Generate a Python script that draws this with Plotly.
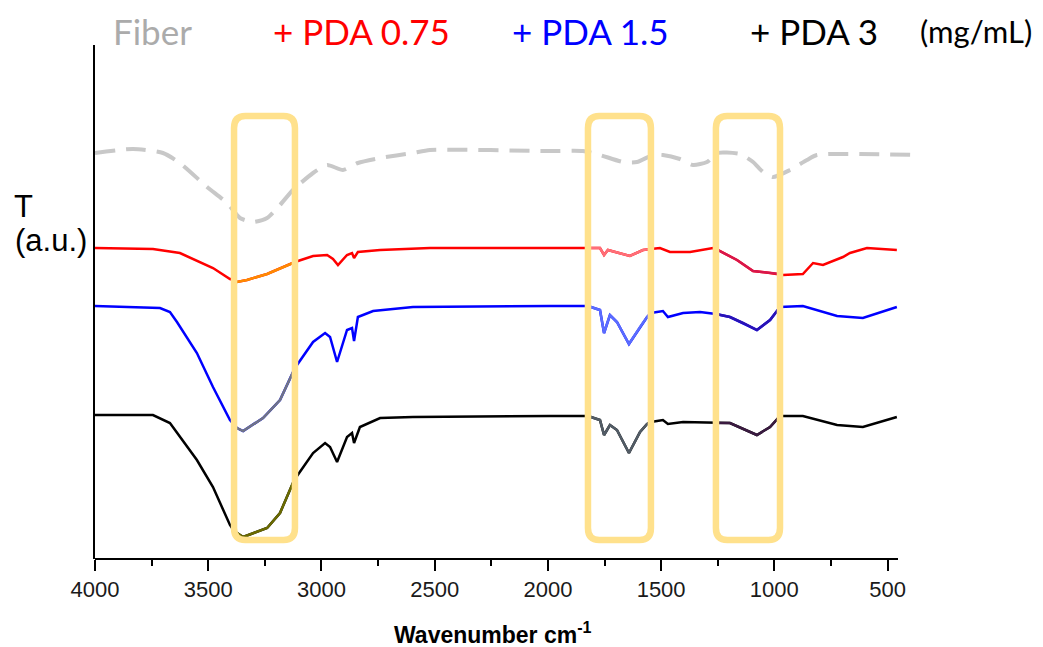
import plotly.graph_objects as go

# ---------------- data (wavenumber cm-1, transmittance in a.u.) ----------------
fiber_wn = [4000, 3832, 3700, 3625, 3505, 3417, 3360, 3302, 3240, 3183, 3126, 3037, 2975, 2905,
            2839, 2741, 2596, 2521, 1991, 1845, 1770, 1668, 1607, 1536, 1492, 1417, 1359, 1297,
            1253, 1152, 1094, 1050, 1006, 931, 856, 812, 370]
fiber_t = [406, 410, 406, 396, 372, 356, 341, 337, 341, 354, 369, 386, 394, 389,
           396, 401, 406, 409, 408, 408, 404, 397, 397, 404, 404, 400, 394, 397,
           406, 405, 397, 387, 382, 389, 399, 404, 404]

red_wn = [4000, 3744, 3625, 3479, 3404, 3386, 3373, 3329, 3240, 3126, 3117, 3037, 2975, 2949,
          2927, 2887, 2865, 2856, 2839, 2741, 2521, 1991, 1845, 1823, 1770, 1752, 1735, 1638,
          1580, 1545, 1505, 1461, 1372, 1271, 1258, 1165, 1094, 1019, 975, 962, 874, 829, 785,
          697, 666, 591, 459]
red_t = [311, 310, 306, 291, 280, 279, 277, 279, 285, 296, 297, 303, 304, 300,
         294, 304, 306, 301, 307, 309, 311, 311, 311, 311, 311, 304, 309, 303,
         309, 310, 311, 307, 307, 311, 310, 299, 288, 286, 285, 284, 285, 296, 294,
         302, 306, 311, 309]

blue_wn = [4000, 3713, 3669, 3638, 3550, 3479, 3404, 3386, 3373, 3346, 3258, 3183, 3126, 3117,
           3037, 2984, 2962, 2931, 2887, 2865, 2856, 2839, 2772, 2596, 1991, 1845, 1823, 1770,
           1752, 1726, 1695, 1642, 1593, 1562, 1545, 1492, 1470, 1403, 1328, 1271, 1258, 1196,
           1138, 1077, 1019, 975, 874, 723, 609, 459]
blue_t = [253, 251, 247, 237, 206, 172, 139, 134, 131, 128, 141, 159, 187, 191,
          217, 226, 222, 197, 229, 231, 218, 242, 248, 252, 253, 253, 253, 249,
          226, 244, 237, 215, 232, 242, 246, 248, 242, 246, 247, 245, 245, 242,
          236, 229, 239, 252, 253, 243, 241, 252]

black_wn = [4000, 3744, 3669, 3550, 3479, 3404, 3386, 3346, 3240, 3183, 3126, 3117, 3037, 2984,
            2962, 2931, 2887, 2865, 2856, 2830, 2741, 2596, 1991, 1845, 1823, 1770, 1752, 1726,
            1695, 1642, 1593, 1562, 1545, 1492, 1470, 1403, 1271, 1258, 1196, 1077, 1019, 975,
            874, 723, 609, 459]
black_t = [144, 144, 136, 99, 72, 34, 28, 22, 31, 46, 76, 80, 106, 116,
           112, 97, 122, 126, 116, 132, 141, 142, 143, 143, 143, 139, 124, 134,
           129, 106, 127, 135, 137, 139, 135, 137, 136, 136, 136, 124, 132, 143,
           143, 134, 132, 142]

# highlighted wavenumber windows (left, right)
box_ranges = [(3386, 3117), (1823, 1545), (1258, 975)]

legend_labels = ["Fiber", "+ PDA 0.75", "+ PDA 1.5", "+ PDA 3", "(mg/mL)"]
x_tick_vals = [4000, 3500, 3000, 2500, 2000, 1500, 1000, 500]

# ---------------- styling ----------------
L_MARGIN, T_MARGIN, W, H = 95, 45, 1043, 647
PLOT_W, PLOT_H = 822, 514
BOX_COLOR = "#FFE18C"

series = [
    (red_wn, red_t, "#FF0000", ["#FF8A00", "#FF6E78", "#D8164C"]),
    (blue_wn, blue_t, "#0000FF", ["#707486", "#5A6CFF", "#2A12B4"]),
    (black_wn, black_t, "#000000", ["#6A6A00", "#525C66", "#3A1A40"]),
]

fig = go.Figure()

fig.add_trace(go.Scatter(x=fiber_wn, y=fiber_t, mode="lines",
                         line=dict(color="#C8C8C8", width=4, dash="20px,11px",
                                   shape="spline", smoothing=0.6),
                         hoverinfo="skip"))

for wn, t, col, hl in series:
    fig.add_trace(go.Scatter(x=wn, y=t, mode="lines", line=dict(color=col, width=2.5),
                             hoverinfo="skip"))
    for (bl, br), hcol in zip(box_ranges, hl):
        xs = [w for w in wn if br <= w <= bl]
        ys = [v for w, v in zip(wn, t) if br <= w <= bl]
        fig.add_trace(go.Scatter(x=xs, y=ys, mode="lines", line=dict(color=hcol, width=2.5),
                                 hoverinfo="skip"))

# rounded highlight boxes
y_top, y_bot = 443, 19
rx, ry = 50, 12
for bl, br in box_ranges:
    x0, x1 = bl, br
    path = (f"M {x0 - rx},{y_top} L {x1 + rx},{y_top} Q {x1},{y_top} {x1},{y_top - ry} "
            f"L {x1},{y_bot + ry} Q {x1},{y_bot} {x1 + rx},{y_bot} L {x0 - rx},{y_bot} "
            f"Q {x0},{y_bot} {x0},{y_bot + ry} L {x0},{y_top - ry} Q {x0},{y_top} {x0 - rx},{y_top} Z")
    fig.add_shape(type="path", path=path, xref="x", yref="y", layer="above",
                  line=dict(color=BOX_COLOR, width=6.5))

# x axis line (ends at ~450 cm-1)
fig.add_shape(type="line", xref="paper", yref="paper", x0=0, x1=(898 - L_MARGIN) / PLOT_W,
              y0=0, y1=0, line=dict(color="black", width=2))

# legend-like coloured labels
leg_colors = ["#ABABAB", "#FF0000", "#0000FF", "#000000", "#000000"]
leg_px = [111, 271, 510, 748, 918]
for lab, c, px in zip(legend_labels, leg_colors, leg_px):
    fig.add_annotation(text=lab, x=(px - L_MARGIN) / PLOT_W, y=(559 - 31) / PLOT_H,
                       xref="paper", yref="paper", xanchor="left", yanchor="middle",
                       showarrow=False,
                       font=dict(family="Lato, Noto Sans, sans-serif",
                                 size=35 if lab != "(mg/mL)" else 31, color=c))

# y label
fig.add_annotation(text="T", x=(12 - L_MARGIN) / PLOT_W, y=(559 - 206) / PLOT_H,
                   xref="paper", yref="paper", xanchor="left", yanchor="middle",
                   showarrow=False, font=dict(family="Liberation Sans, Arial", size=31, color="black"))
fig.add_annotation(text="(a.u.)", x=(13 - L_MARGIN) / PLOT_W, y=(559 - 240) / PLOT_H,
                   xref="paper", yref="paper", xanchor="left", yanchor="middle",
                   showarrow=False, font=dict(family="Liberation Sans, Arial", size=31, color="black"))

# x title
fig.add_annotation(text="<b>Wavenumber cm<sup>-1</sup></b>", x=(493 - L_MARGIN) / PLOT_W,
                   y=(559 - 633) / PLOT_H, xref="paper", yref="paper",
                   xanchor="center", yanchor="middle", showarrow=False,
                   font=dict(family="Liberation Sans, Arial", size=23, color="black"))

fig.update_layout(
    width=W, height=H,
    margin=dict(l=L_MARGIN, r=W - L_MARGIN - PLOT_W, t=T_MARGIN, b=H - T_MARGIN - PLOT_H),
    plot_bgcolor="white", paper_bgcolor="white", showlegend=False,
    xaxis=dict(range=[4000, 370], showgrid=False, zeroline=False, showline=False,
               tickmode="array", tickvals=x_tick_vals, ticks="outside", ticklen=11,
               tickwidth=2, tickcolor="black",
               minor=dict(dtick=250, tick0=0, ticks="outside", ticklen=6, tickwidth=2,
                          tickcolor="black", showgrid=False),
               tickfont=dict(family="Liberation Sans, Arial", size=22, color="#1A1A1A")),
    yaxis=dict(range=[0, 514], showgrid=False, zeroline=False, showline=True,
               linecolor="black", linewidth=2, showticklabels=False, ticks=""),
)

fig.write_html("out.html", config={"displayModeBar": False},
               post_script="document.body.style.margin='0px';")
